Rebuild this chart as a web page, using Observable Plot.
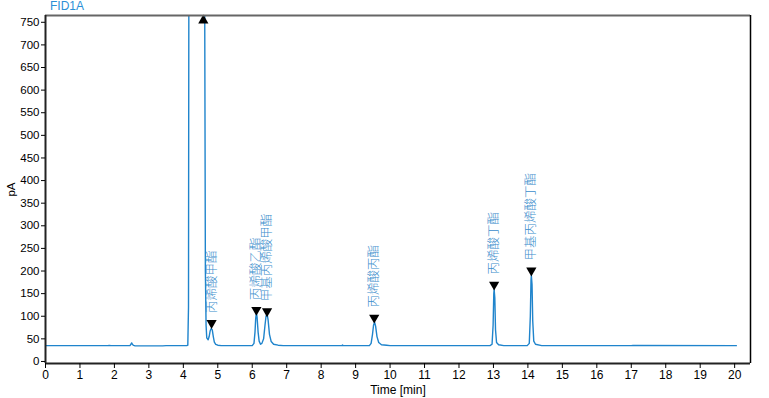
<!DOCTYPE html>
<html>
<head>
<meta charset="utf-8">
<script src="https://cdn.jsdelivr.net/npm/d3@7"></script>
<script src="https://cdn.jsdelivr.net/npm/@observablehq/plot@0.6"></script>
<style>
  body { margin: 0; background: #fff; font-family: "Liberation Sans", Arial, sans-serif; }
  #wrap { position: relative; width: 769px; height: 398px; }
  #title { position: absolute; left: 50px; top: -1px; font-size: 12px; color: #2b8fd6; line-height: 14px; }
</style>
</head>
<body>
<div id="wrap">
  <div id="title">FID1A</div>
  <div id="chart"></div>
</div>
<script>
// Chromatogram trace: retention time (min) and signal (pA)
const time = [0, 0.8, 1.8, 1.85, 1.9, 2.45, 2.48, 2.5, 2.53, 2.56, 2.6, 3.4, 3.5, 4.1, 4.13,
  4.15, 4.16, 4.62, 4.64, 4.66, 4.68, 4.72, 4.75, 4.78, 4.81, 4.84, 4.87, 4.9, 4.94, 5.0, 5.1,
  6.0, 6.05, 6.08, 6.1, 6.12, 6.14, 6.17, 6.2, 6.24, 6.28, 6.33, 6.37, 6.4, 6.43, 6.46, 6.5, 6.55, 6.62, 6.75, 6.9,
  8.6, 8.62, 8.64, 9.4, 9.45, 9.49, 9.52, 9.55, 9.58, 9.62, 9.67, 9.75, 9.9, 10.0,
  12.9, 12.96, 12.99, 13.01, 13.02, 13.04, 13.06, 13.09, 13.15, 13.3,
  13.98, 14.04, 14.07, 14.09, 14.1, 14.12, 14.14, 14.17, 14.22, 14.4, 17.0, 17.05, 20.05];
const signal = [35, 35, 35, 35.6, 35, 35, 38, 41, 37, 35.5, 34.5, 34.5, 35, 35, 36,
  120, 800, 800, 200, 80, 52, 48, 55, 68, 73, 70, 55, 43, 38, 36, 35,
  35, 40, 65, 95, 108, 98, 65, 45, 38, 40, 50, 80, 100, 105, 92, 60, 44, 38, 36, 35,
  35, 36.5, 35, 35, 40, 60, 80, 87, 78, 55, 42, 37, 36, 35,
  35, 38, 80, 150, 159, 140, 70, 42, 37, 35,
  35, 40, 100, 180, 190, 170, 90, 45, 38, 35, 35, 35.6, 35];

// Labelled peaks
const peakTime = [4.82, 6.12, 6.43, 9.54, 13.02, 14.1];
const peakMark = [85, 114, 111, 97, 170, 201];
const peakName = ["丙烯酸甲酯", "丙烯酸乙酯", "甲基丙烯酸甲酯", "丙烯酸丙酯", "丙烯酸丁酯", "甲基丙烯酸丁酯"];
// Off-scale solvent apex marker
const offTime = [4.58];
const offMark = [754];

const xTicks = d3.range(0, 21, 1);
const yTicks = d3.range(0, 751, 50);

const trace = time.map((t, i) => ({t, v: signal[i]}));
const peaks = peakTime.map((t, i) => ({t, v: peakMark[i], name: peakName[i]}));
const off = offTime.map((t, i) => ({t, v: offMark[i]}));

const X0 = 0, X1 = 20.46, Y0 = -4.5, Y1 = 765;
const blue = "#1f84cc";

const chart = Plot.plot({
  width: 769,
  height: 398,
  marginLeft: 45,
  marginRight: 19,
  marginTop: 15,
  marginBottom: 35,
  style: {fontFamily: "Liberation Sans, Arial, sans-serif", fontSize: "12px", color: "#000", background: "#fff"},
  x: {domain: [X0, X1]},
  y: {domain: [Y0, Y1]},
  marks: [
    Plot.line(trace, {x: "t", y: "v", stroke: blue, strokeWidth: 1.4, clip: true}),
    Plot.dot(peaks, {x: "t", y: "v", symbol: "triangle", r: 3.8, fill: "#000", rotate: 180}),
    Plot.dot(off, {x: "t", y: "v", symbol: "triangle", r: 3.8, fill: "#000"}),
    Plot.text(peaks, {x: "t", y: "v", text: "name", rotate: -90, textAnchor: "start", lineAnchor: "middle", dy: -10, fill: "#3b8dcc",
      fontSize: 12.5, fontFamily: "Noto Sans CJK SC", fontWeight: 300}),
    Plot.ruleY([Y1], {stroke: "#666", strokeWidth: 2}),
    Plot.ruleX([X1], {stroke: "#000", strokeWidth: 1.5}),
    Plot.ruleX([X0], {stroke: "#222", strokeWidth: 2}),
    Plot.ruleY([Y0], {stroke: "#222", strokeWidth: 2}),
    Plot.axisX({ticks: xTicks, tickSize: 5, tickPadding: 2, fontSize: 12, label: "Time [min]", labelAnchor: "center", labelOffset: 30, labelArrow: "none"}),
    Plot.axisY({ticks: yTicks, tickSize: 4, tickPadding: 2, fontSize: 11.5, label: "pA", labelAnchor: "center", labelOffset: 39, labelArrow: "none"})
  ]
});
document.getElementById("chart").appendChild(chart);
</script>
</body>
</html>
